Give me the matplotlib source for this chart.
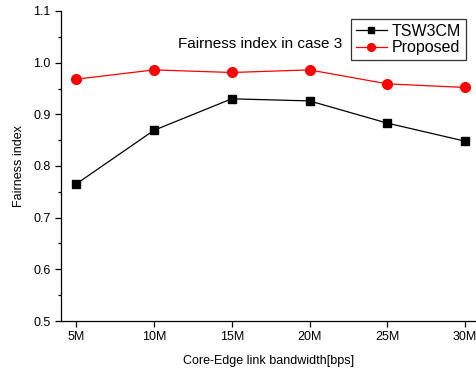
import matplotlib
matplotlib.use('Agg')
import matplotlib.pyplot as plt
from matplotlib.ticker import MultipleLocator

plt.rcParams['font.family'] = ['Liberation Sans', 'DejaVu Sans']

bandwidth = [5, 10, 15, 20, 25, 30]
tick_labels = ['5M', '10M', '15M', '20M', '25M', '30M']
tsw3cm = [0.765, 0.869, 0.930, 0.926, 0.883, 0.848]
proposed = [0.968, 0.986, 0.981, 0.986, 0.959, 0.952]

fig = plt.figure(figsize=(4.76, 3.71), dpi=100)
ax = fig.add_axes([61 / 476, 1 - 321 / 371, (476 - 61) / 476, (321 - 11) / 371])

ax.plot(bandwidth, tsw3cm, '-s', color='black', lw=0.9, ms=6, label='TSW3CM')
ax.plot(bandwidth, proposed, '-o', color='red', lw=0.9, ms=7, label='Proposed')

ax.set_xlim(4.03, 30.7)
ax.set_ylim(0.5, 1.1)
ax.set_xticks(bandwidth)
ax.set_xticklabels(tick_labels)
ax.yaxis.set_major_locator(MultipleLocator(0.1))
ax.yaxis.set_minor_locator(MultipleLocator(0.05))
ax.tick_params(labelsize=9, direction='out', length=4, width=0.9)
ax.tick_params(which='minor', direction='out', length=2.5, width=0.9)
for s in ['top', 'right']:
    ax.spines[s].set_visible(False)
for s in ['left', 'bottom']:
    ax.spines[s].set_linewidth(0.9)

ax.set_xlabel('Core-Edge link bandwidth[bps]', fontsize=9, labelpad=8)
ax.set_ylabel('Fairness index', fontsize=9, labelpad=6)

ax.text(0.48, 0.895, 'Fairness index in case 3', transform=ax.transAxes,
        fontsize=11, ha='center', va='center')

leg = ax.legend(loc='upper right', bbox_to_anchor=(0.975, 0.975), fontsize=11.5,
                frameon=True, fancybox=False, edgecolor='black',
                handlelength=2.0, handletextpad=0.25, borderpad=0.3,
                labelspacing=0.12, borderaxespad=0, markerscale=0.8)
leg.get_frame().set_linewidth(0.9)

fig.savefig('out.png', dpi=100)
